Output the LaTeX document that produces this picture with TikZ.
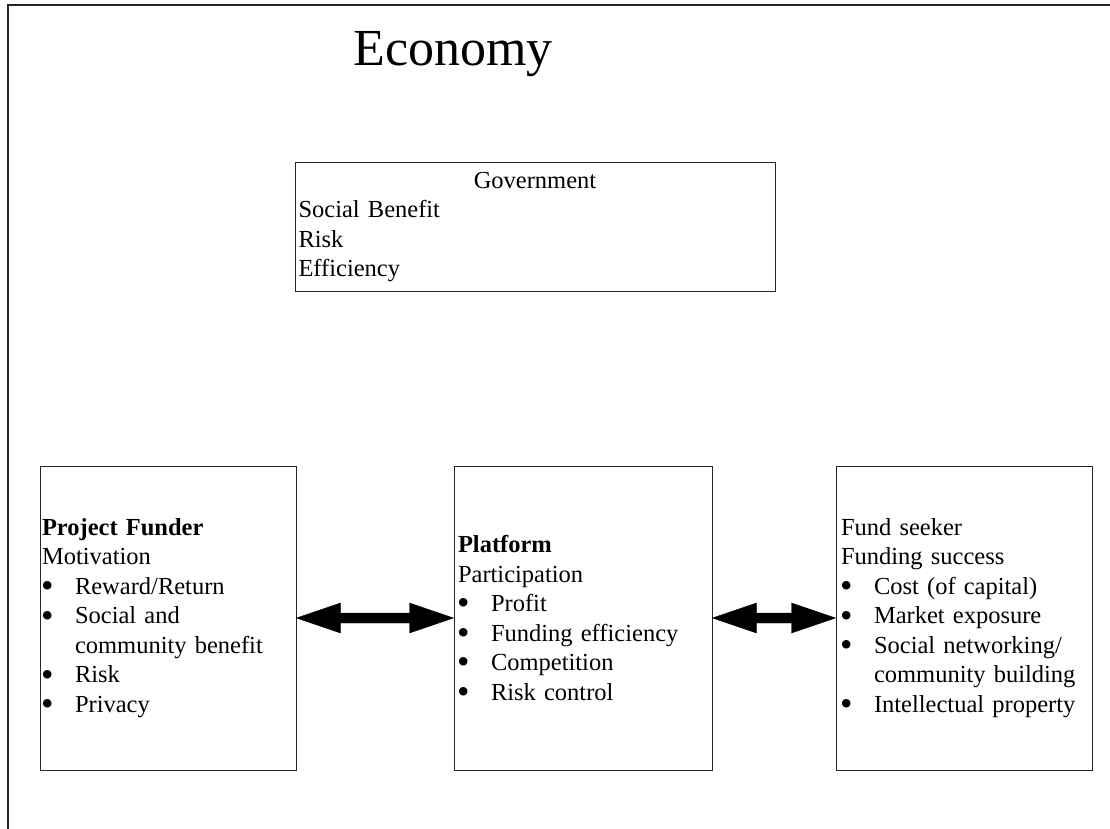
\documentclass[tikz,border=0pt]{standalone}
\usepackage{fontspec}
\usepackage{graphicx}
\setmainfont{Liberation Serif}
\usetikzlibrary{calc}
\tikzset{
  frameline/.style={line width=1.4pt, black!85},
  box/.style={draw=black!85, line width=1pt, rectangle, inner ysep=0pt, align=left,
    font=\fontsize{24.5}{29.5}\selectfont},
  dblarrow/.style={fill=black, draw=black, line width=0.4pt},
}
\newcommand{\itm}{\makebox[33pt][l]{\hspace*{-1pt}\smash{\raisebox{-3.2pt}{\scalebox{1.45}{\textbullet}}}}}
\newcommand{\cont}{\hspace*{33pt}}
\newcommand{\dblarr}[2]{%
  \fill[dblarrow] (#1) -- ($(#1)+(44,-15)$) -- ($(#1)+(44,-5)$) -- ($(#2)+(-44,-5)$)
    -- ($(#2)+(-44,-15)$) -- (#2) -- ($(#2)+(-44,15)$) -- ($(#2)+(-44,5)$)
    -- ($(#1)+(44,5)$) -- ($(#1)+(44,15)$) -- cycle;}
\begin{document}
\begin{tikzpicture}[x=1pt,y=-1pt]
\useasboundingbox (0,0) rectangle (1110,829);
% outer frame (cut off at right and bottom)
\coordinate (ftl) at (8,5);
\coordinate (ftr) at (1110,5);
\coordinate (fbl) at (8,829);
\draw[frameline] (fbl) -- (ftl) -- (ftr);
% title
\node[anchor=base, font=\fontsize{52}{62}\selectfont, inner sep=0pt] (title) at (453,66) {Economy};
% government
\node[box, minimum width=480pt, minimum height=128pt, text width=473pt, inner xsep=3.5pt] (gov) at (535,227)
  {\makebox[\linewidth][c]{Government}\\Social Benefit\\Risk\\Efficiency};
% project funder
\node[box, minimum width=256pt, minimum height=304pt, text width=252pt, inner xsep=2pt] (pf) at (168,618)
  {\textbf{Project Funder}\\Motivation\\\itm Reward/Return\\\itm Social and\\\cont community benefit\\\itm Risk\\\itm Privacy};
% platform
\node[box, minimum width=258pt, minimum height=304pt, text width=250pt, inner xsep=4pt] (pl) at (583,618)
  {\textbf{Platform}\\Participation\\\itm Profit\\\itm Funding efficiency\\\itm Competition\\\itm Risk control};
% fund seeker
\node[box, minimum width=256pt, minimum height=304pt, text width=246pt, inner xsep=5pt] (fs) at (964,618)
  {Fund seeker\\Funding success\\\itm Cost (of capital)\\\itm Market exposure\\\itm Social networking/\\\cont community building\\\itm Intellectual property};
% arrows
\dblarr{pf.east}{pl.west}
\dblarr{pl.east}{fs.west}
\end{tikzpicture}
\end{document}
